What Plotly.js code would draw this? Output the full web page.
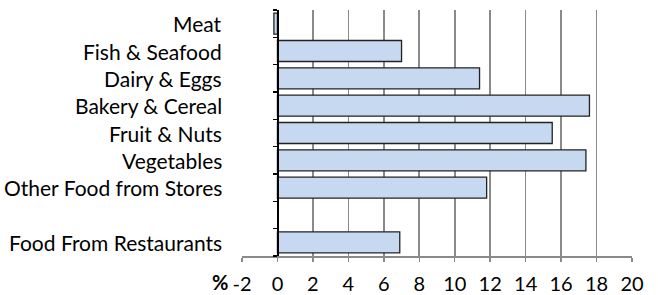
<!DOCTYPE html>
<html>
<head>
<meta charset="utf-8">
<script src="https://cdn.plot.ly/plotly-3.0.1.min.js"></script>
<style>html,body{margin:0;padding:0;background:#fff;}#chart{width:658px;height:295px;}</style>
</head>
<body>
<div id="chart"></div>
<script>
const categories = ["Meat", "Fish & Seafood", "Dairy & Eggs", "Bakery & Cereal", "Fruit & Nuts", "Vegetables", "Other Food from Stores", "", "Food From Restaurants"];
const values = [-0.2, 7.0, 11.4, 17.6, 15.5, 17.4, 11.8, null, 6.9];
const xTicks = [-2, 0, 2, 4, 6, 8, 10, 12, 14, 16, 18, 20];
const unitLabel = "%";

const FONT = "Lato, 'Open Sans', sans-serif";
const pos = categories.map((c, i) => i);
const bounds = [];
for (let i = 0; i <= categories.length; i++) bounds.push(i - 0.5);

const trace = {
  type: "bar",
  orientation: "h",
  x: values,
  y: pos,
  marker: {color: "#C6D9F1", line: {color: "#222222", width: 1.3}},
  hoverinfo: "x"
};

const annotations = categories.filter(c => c !== "").map(c => ({
  text: c,
  xref: "paper", x: 0, xanchor: "right", xshift: -18,
  yref: "y", y: categories.indexOf(c), yanchor: "middle",
  showarrow: false,
  font: {family: FONT, size: 21, color: "#000"}
}));
annotations.push({
  text: "<b>" + unitLabel + "</b>",
  xref: "paper", x: 0, xanchor: "right", xshift: -12,
  yref: "paper", y: 0, yanchor: "middle", yshift: -26,
  showarrow: false,
  font: {family: FONT, size: 20, color: "#000"}
});

const layout = {
  width: 658, height: 295,
  margin: {l: 242, r: 26, t: 10, b: 39, pad: 0},
  paper_bgcolor: "#fff", plot_bgcolor: "#fff",
  showlegend: false,
  bargap: 0.23,
  xaxis: {
    range: [-2, 20], tickvals: xTicks, ticktext: xTicks.map(String),
    showgrid: true, gridcolor: "#8a8a8a", gridwidth: 1.6,
    zeroline: false,
    showline: true, linecolor: "#8a8a8a", linewidth: 1.5,
    ticks: "outside", ticklen: 4, tickcolor: "#8a8a8a", tickwidth: 1.5,
    ticklabelstandoff: 5,
    tickfont: {family: FONT, size: 20, color: "#000"}
  },
  yaxis: {
    range: [8.5, -0.5],
    anchor: "free", position: 2 / 22,
    tickvals: bounds, showticklabels: false,
    ticks: "outside", ticklen: 4, tickcolor: "#000", tickwidth: 1.2,
    showgrid: false, zeroline: false,
    showline: true, linecolor: "#000", linewidth: 1.3
  },
  annotations: annotations
};

Plotly.newPlot("chart", [trace], layout, {displayModeBar: false, staticPlot: true});
</script>
</body>
</html>
